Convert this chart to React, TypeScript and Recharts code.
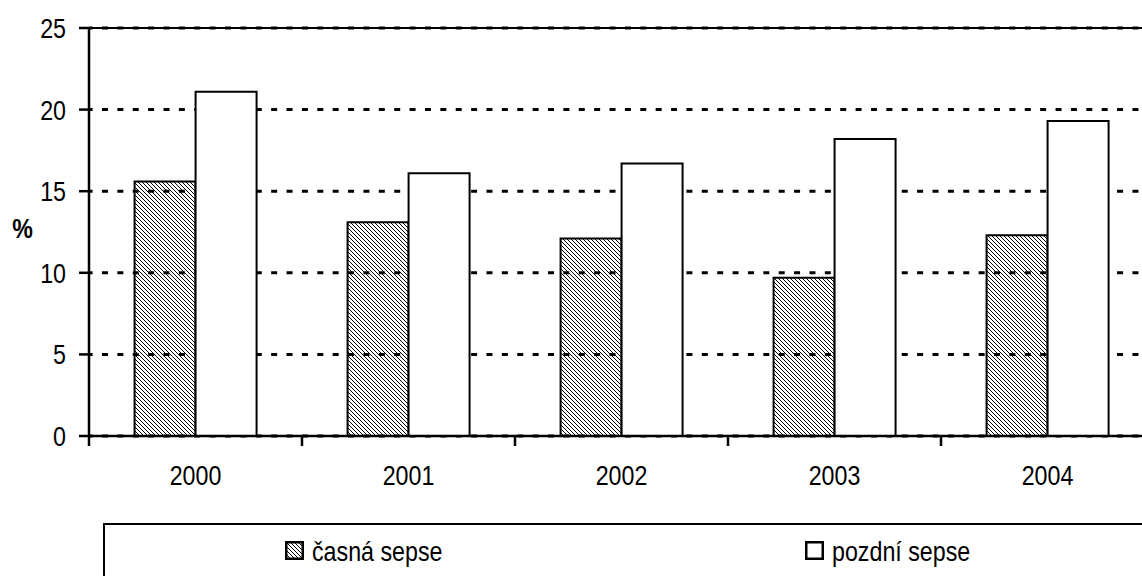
import React from 'react';
import { BarChart, Bar, XAxis, YAxis, CartesianGrid, ReferenceLine, Legend } from 'recharts';

const years = ['2000', '2001', '2002', '2003', '2004'];
const earlySepsis = [15.6, 13.1, 12.1, 9.7, 12.3];
const lateSepsis = [21.1, 16.1, 16.7, 18.2, 19.3];
const yTicks = [0, 5, 10, 15, 20, 25];
const seriesNames = ['časná sepse', 'pozdní sepse'];

const data = years.map((y, i) => ({ year: y, early: earlySepsis[i], late: lateSepsis[i] }));

const FONT = '"Liberation Sans", Arial, sans-serif';
const FS = 28;
const SX = 0.83;
const TICK_SIZE = 10;
const X_TICK_MARGIN = 29;

const XTick = (props: any) => {
  const { x, y, payload, index } = props;
  const half = payload && typeof payload.offset === 'number' ? payload.offset : 0;
  const axisY = y - X_TICK_MARGIN;
  return (
    <g>
      <line x1={x + half} x2={x + half} y1={axisY} y2={axisY + TICK_SIZE} stroke="#000" strokeWidth={2.5} />
      {index === 0 && (
        <line x1={x - half} x2={x - half} y1={axisY} y2={axisY + TICK_SIZE} stroke="#000" strokeWidth={2.5} />
      )}
      <text
        transform={`translate(${x},${y}) scale(${SX},1)`}
        dy="0.71em"
        textAnchor="middle"
        fontFamily={FONT}
        fontSize={FS}
        fill="#000"
      >
        {payload.value}
      </text>
    </g>
  );
};

const YTick = (props: any) => {
  const { x, y, payload } = props;
  return (
    <text
      transform={`translate(${x},${y}) scale(${SX},1)`}
      dy="0.355em"
      textAnchor="end"
      fontFamily={FONT}
      fontSize={FS}
      fill="#000"
    >
      {payload.value}
    </text>
  );
};

const HATCH_PATH = 'M-1,-1 L5,5 M-1,3 L1,5 M3,-1 L5,1';

const HatchSwatch = () => (
  <svg width={19} height={19} style={{ display: 'block' }}>
    <defs>
      <pattern id="hatchLegend" patternUnits="userSpaceOnUse" width={4} height={4}>
        <path d={HATCH_PATH} stroke="#000" strokeWidth={1} />
      </pattern>
    </defs>
    <rect x={1.25} y={1.25} width={16.5} height={16.5} fill="url(#hatchLegend)" stroke="#000" strokeWidth={2.5} />
  </svg>
);

const PlainSwatch = () => (
  <svg width={19} height={19} style={{ display: 'block' }}>
    <rect x={1.25} y={1.25} width={16.5} height={16.5} fill="#fff" stroke="#000" strokeWidth={2.5} />
  </svg>
);

const legendText: React.CSSProperties = {
  position: 'absolute',
  top: 10,
  lineHeight: '34px',
  whiteSpace: 'nowrap',
  transform: `scaleX(${SX})`,
  transformOrigin: 'left center',
};

const LegendBox = () => (
  <div
    style={{
      position: 'relative',
      width: 1100,
      height: 90,
      border: '2px solid #000',
      boxSizing: 'border-box',
      background: '#fff',
      fontFamily: FONT,
      fontSize: FS,
      color: '#000',
    }}
  >
    <div style={{ position: 'absolute', left: 180, top: 16 }}>
      <HatchSwatch />
    </div>
    <div style={{ ...legendText, left: 207 }}>{seriesNames[0]}</div>
    <div style={{ position: 'absolute', left: 700, top: 16 }}>
      <PlainSwatch />
    </div>
    <div style={{ ...legendText, left: 727 }}>{seriesNames[1]}</div>
  </div>
);

export default function App() {
  return (
    <div style={{ position: 'fixed', left: 0, top: 0, width: 1142, height: 576, overflow: 'hidden', background: '#fff' }}>
      <BarChart
        width={1164}
        height={600}
        data={data}
        margin={{ top: 28, right: 10, left: 0, bottom: 104 }}
        barCategoryGap="21.4%"
        barGap={0}
      >
        <defs>
          <pattern id="hatch" patternUnits="userSpaceOnUse" width={4} height={4}>
            <path d={HATCH_PATH} stroke="#000" strokeWidth={1} />
          </pattern>
        </defs>
        <CartesianGrid
          vertical={false}
          stroke="#000"
          strokeWidth={3}
          strokeDasharray="6 9.38"
          strokeDashoffset={2.4}
        />
        <ReferenceLine y={25} stroke="#000" strokeWidth={2} />
        <XAxis
          dataKey="year"
          height={60}
          axisLine={{ stroke: '#000', strokeWidth: 2.5 }}
          tickLine={false}
          tickSize={0}
          tickMargin={X_TICK_MARGIN}
          tick={<XTick />}
          interval={0}
        />
        <YAxis
          width={89}
          domain={[0, 25]}
          ticks={yTicks}
          interval={0}
          axisLine={{ stroke: '#000', strokeWidth: 2.5 }}
          tickLine={{ stroke: '#000', strokeWidth: 2.5 }}
          tickSize={TICK_SIZE}
          tickMargin={13}
          tick={<YTick />}
          label={{
            content: (p: any) => {
              const vb = p.viewBox || { x: 0, y: 28, width: 89, height: 408 };
              const cx = vb.x + 22.5;
              const cy = vb.y + vb.height / 2 - 4;
              return (
                <text
                  transform={`translate(${cx},${cy}) scale(${SX},1)`}
                  textAnchor="middle"
                  dominantBaseline="central"
                  fontFamily={FONT}
                  fontWeight="bold"
                  fontSize={FS}
                  fill="#000"
                >
                  %
                </text>
              );
            },
          }}
        />
        <Legend
          layout="horizontal"
          verticalAlign="middle"
          align="center"
          wrapperStyle={{ position: 'absolute', left: 103, top: 523, width: 1100, height: 90 }}
          content={() => <LegendBox />}
        />
        <Bar dataKey="early" name={seriesNames[0]} fill="url(#hatch)" stroke="#000" strokeWidth={2} isAnimationActive={false} />
        <Bar dataKey="late" name={seriesNames[1]} fill="#fff" stroke="#000" strokeWidth={2} isAnimationActive={false} />
      </BarChart>
    </div>
  );
}
